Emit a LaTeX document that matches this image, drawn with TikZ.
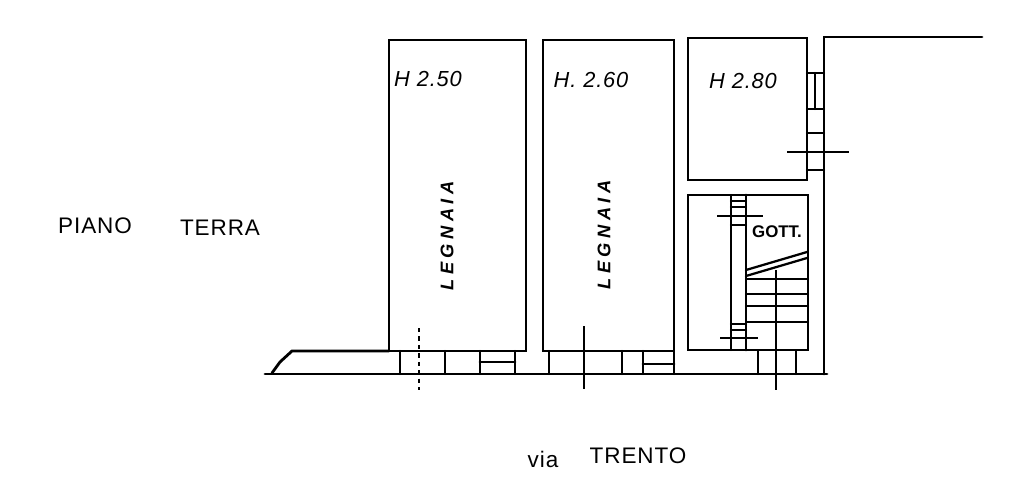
\documentclass[tikz,border=0pt]{standalone}
\usepackage{fontspec}
\setmainfont{Liberation Sans}
\usetikzlibrary{positioning}
\tikzset{%
  wall/.style = {line width=2pt,line cap=round},
  thin wall/.style = {line width=1.6pt,line cap=round},
  cut/.style = {line width=1.5pt},
  label/.style = {inner sep=0pt,font=\fontsize{15.5}{15.5}\selectfont\itshape\addfontfeature{LetterSpace=4}},
  big label/.style = {inner sep=0pt,font=\fontsize{16}{16}\selectfont\addfontfeature{LetterSpace=4}},
  room label/.style = {inner sep=0pt,rotate=90,font=\fontsize{13}{13}\selectfont\itshape\bfseries\addfontfeature{LetterSpace=24}}
}
\begin{document}
\begin{tikzpicture}[x=0.025cm,y=-0.025cm]
  \useasboundingbox (0,0) rectangle (1024,493);

  % rooms
  \draw[wall] (389,40) rectangle (526,351);
  \draw[wall] (543,40) rectangle (674,351);
  \draw[wall] (688,38) rectangle (807,180);
  \draw[wall] (688,195) rectangle (808,350);

  % outer walls
  \draw[wall] (982,37) -- (824,37) -- (824,374);
  \draw[wall] (265,374) -- (827,374);
  \draw[wall] (389,351) -- (292,351) -- (280,362) -- (272,373);

  % openings in the front wall
  \foreach \xpos in {400,445,480,515,549,622,643,674,758,796}
    \draw[thin wall] (\xpos,351) -- (\xpos,374);
  \draw[wall] (480,362) -- (515,362);
  \draw[wall] (643,364) -- (674,364);

  % openings in the side wall
  \foreach \ypos in {73,109,133,170}
    \draw[thin wall] (807,\ypos) -- (824,\ypos);
  \draw[thin wall] (815,73) -- (815,109);

  % section marks
  \draw[cut,dashed] (419,328) -- (419,390);
  \draw[cut] (584,326) -- (584,389);
  \draw[cut] (776,270) -- (776,390);
  \draw[cut] (787,152) -- (849,152);

  % stairs
  \draw[thin wall] (731,195) -- (731,350);
  \draw[wall] (746,195) -- (746,350);
  \draw[cut] (717,216) -- (763,216);
  \draw[cut] (720,338) -- (758,338);
  \foreach \ypos in {201,207,225,324,330}
    \draw[thin wall] (731,\ypos) -- (746,\ypos);
  \foreach \ypos in {279,294,306,322}
    \draw[thin wall] (746,\ypos) -- (808,\ypos);
  \draw[thin wall] (746,270) -- (807,252);
  \draw[thin wall] (746,276) -- (807,258);

  % texts
  \node[label] (h1) at (428,79) {H 2.50};
  \node[label] (h2) at (591,80) {H. 2.60};
  \node[label] (h3) at (743,81) {H 2.80};
  \node[inner sep=0pt,font=\fontsize{12}{12}\selectfont\bfseries] (gott) at (777,232) {GOTT.};
  \node[room label] (legnaia1) at (447,236) {LEGNAIA};
  \node[room label] (legnaia2) at (604,235) {LEGNAIA};
  \node[big label] (piano) at (95,226) {PIANO};
  \node[big label] (terra) at (220,228) {TERRA};
  \node[big label] (via) at (543,459) {via};
  \node[big label] (trento) at (638,456) {TRENTO};
\end{tikzpicture}
\end{document}
